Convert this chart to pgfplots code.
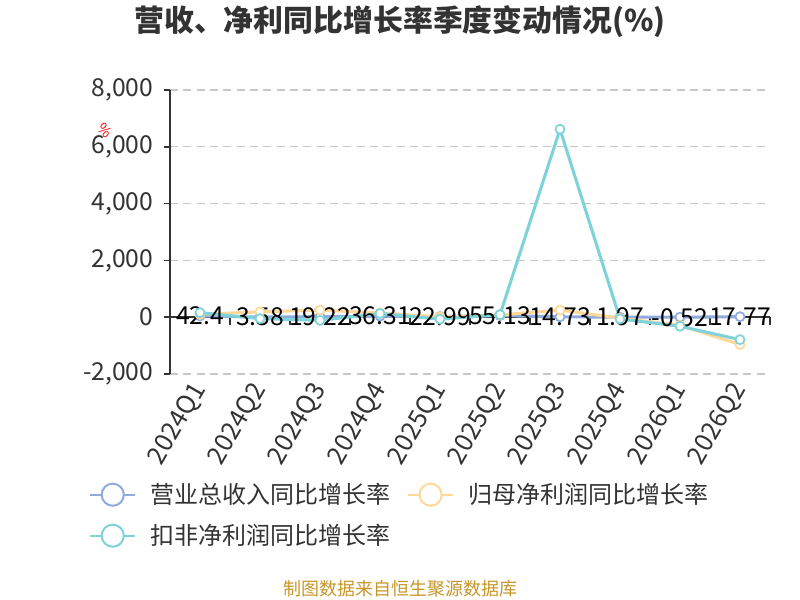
\documentclass[border=0pt]{standalone}
\usepackage{pgfplots}
\pgfplotsset{compat=1.18}
\usepackage{fontspec}
\setmainfont{Noto Sans CJK SC}
\definecolor{cRev}{RGB}{143,170,220}
\definecolor{cNet}{RGB}{255,216,152}
\definecolor{cDed}{RGB}{126,211,218}
\definecolor{txt}{RGB}{51,51,51}
\definecolor{foot}{RGB}{200,150,40}
\definecolor{gridc}{RGB}{200,200,200}
\begin{document}
\begin{tikzpicture}[x=1pt,y=1pt]
\useasboundingbox (0,0) rectangle (600,450);
\node[font=\bfseries\fontsize{22.4}{26}\selectfont, text=txt] at (300,433.5) {营收、净利同比增长率季度变动情况(\%)};
\node[font=\fontsize{13.5}{16}\selectfont, text=foot] at (300,8.5) {制图数据来自恒生聚源数据库};
\node[font=\fontsize{11}{12}\selectfont, text=red, rotate=-45] at (79,352) {\%};
\begin{axis}[
  at={(127.5pt,169.5pt)}, anchor=south west,
  scale only axis, width=450pt, height=213pt,
  xmin=-0.5, xmax=9.5, ymin=-2000, ymax=8000,
  axis lines*=left,
  x axis line style={draw=none},
  y axis line style={txt, line width=1.1pt},
  xtick={0,...,9},
  xticklabels={2024Q1,2024Q2,2024Q3,2024Q4,2025Q1,2025Q2,2025Q3,2025Q4,2026Q1,2026Q2},
  x tick style={draw=none},
  ytick={-2000,0,2000,4000,6000,8000},
  y tick style={txt, line width=1.1pt},
  tick align=outside, major tick length=4.5pt,
  ymajorgrids,
  y grid style={gridc, line width=0.9pt, dash pattern=on 6pt off 4pt},
  yticklabel style={font=\fontsize{18.5}{22}\selectfont, text=txt, xshift=-4.5pt},
  xticklabel style={font=\fontsize{19}{22}\selectfont, text=txt, rotate=60, anchor=east, yshift=-2pt},
  /pgf/number format/.cd, 1000 sep={,}, assume math mode=true, /pgfplots/.cd,
  legend columns=2,
  legend cell align=left,
  legend style={at={(-0.142,-0.366)}, anchor=north west, draw=none, fill=none,
    font=\fontsize{18}{21}\selectfont, text=txt,
    /tikz/every even column/.append style={column sep=10.5pt},
    row sep=10pt},
  clip=false,
]
\draw[txt, line width=1.1pt] (axis cs:-0.5,0) -- (axis cs:9.5,0);
\pgfplotsinvokeforeach{-0.5,0.5,1.5,2.5,3.5,4.5,5.5,6.5,7.5,8.5,9.5}{\draw[txt, line width=1.1pt] (axis cs:#1,0) -- ([yshift=-6pt]axis cs:#1,0);}
\addplot[cRev, line width=2.3pt, mark=*, mark size=3.4pt,
  mark options={solid, fill=white, draw=cRev, line width=1.3pt},
  point meta=explicit symbolic, nodes near coords,
  every node near coord/.append style={anchor=center, text=black, font=\fontsize{18.5}{22}\selectfont},
  legend image code/.code={\draw[cRev, line width=1.5pt] (0pt,0pt) -- (34pt,0pt); \draw[cRev, line width=1.5pt, fill=white] (17pt,0pt) circle (8.3pt); \path (42pt,0pt);}]
  coordinates {(0,42.4)[42.4] (1,3.58)[3.58] (2,19.22)[19.22] (3,36.31)[36.31] (4,22.99)[22.99] (5,55.13)[55.13] (6,14.73)[14.73] (7,1.97)[1.97] (8,-0.52)[-0.52] (9,17.77)[17.77]};
\addlegendentry{营业总收入同比增长率}
\addplot[cNet, line width=2.3pt, mark=*, mark size=3.4pt,
  mark options={solid, fill=white, draw=cNet, line width=1.3pt},
  legend image code/.code={\draw[cNet, line width=1.5pt] (0pt,0pt) -- (34pt,0pt); \draw[cNet, line width=1.5pt, fill=white] (17pt,0pt) circle (8.3pt); \path (42pt,0pt);}]
  coordinates {(0,100) (1,190) (2,250) (3,150) (4,10) (5,80) (6,250) (7,-30) (8,-290) (9,-960)};
\addlegendentry{归母净利润同比增长率}
\addplot[cDed, line width=2.3pt, mark=*, mark size=3.4pt,
  mark options={solid, fill=white, draw=cDed, line width=1.3pt},
  legend image code/.code={\draw[cDed, line width=1.5pt] (0pt,0pt) -- (34pt,0pt); \draw[cDed, line width=1.5pt, fill=white] (17pt,0pt) circle (8.3pt); \path (42pt,0pt);}]
  coordinates {(0,160) (1,-50) (2,-110) (3,130) (4,-70) (5,90) (6,6620) (7,-60) (8,-320) (9,-790)};
\addlegendentry{扣非净利润同比增长率}
\end{axis}
\end{tikzpicture}
\end{document}
